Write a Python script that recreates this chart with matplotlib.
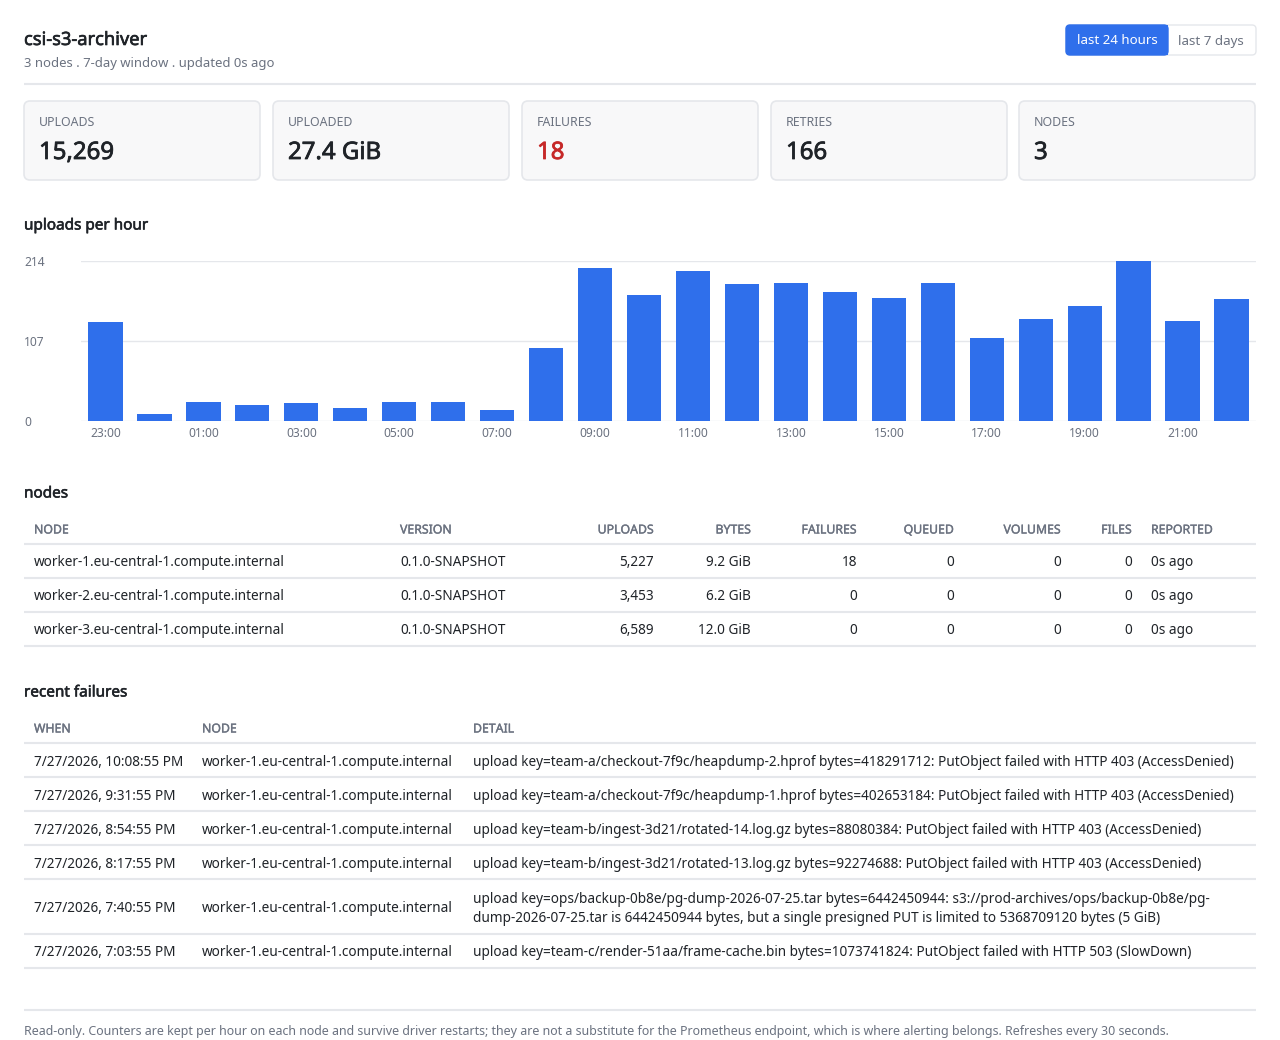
import matplotlib
matplotlib.use("Agg")
import matplotlib.pyplot as plt
import matplotlib.patheffects as pe
from matplotlib.patches import FancyBboxPatch, Rectangle

plt.rcParams['font.family'] = ['Noto Sans', 'DejaVu Sans']

# data
hours = ["23:00", "00:00", "01:00", "02:00", "03:00", "04:00", "05:00", "06:00",
         "07:00", "08:00", "09:00", "10:00", "11:00", "12:00", "13:00", "14:00",
         "15:00", "16:00", "17:00", "18:00", "19:00", "20:00", "21:00", "22:00"]
uploads_per_hour = [132, 10, 25, 22, 24, 17, 26, 26, 15, 98, 204, 168,
                    200, 183, 184, 173, 164, 184, 111, 136, 154, 214, 134, 163]
y_ticks = [0, 107, 214]

card_labels = ["UPLOADS", "UPLOADED", "FAILURES", "RETRIES", "NODES"]
card_values = ["15,269", "27.4 GiB", "18", "166", "3"]

node_cols = ["NODE", "VERSION", "UPLOADS", "BYTES", "FAILURES", "QUEUED", "VOLUMES", "FILES", "REPORTED"]
node_names = ["worker-1.eu-central-1.compute.internal",
              "worker-2.eu-central-1.compute.internal",
              "worker-3.eu-central-1.compute.internal"]
node_version = ["0.1.0-SNAPSHOT"] * 3
node_uploads = ["5,227", "3,453", "6,589"]
node_bytes = ["9.2 GiB", "6.2 GiB", "12.0 GiB"]
node_failures = ["18", "0", "0"]
node_queued = ["0", "0", "0"]
node_volumes = ["0", "0", "0"]
node_files = ["0", "0", "0"]
node_reported = ["0s ago", "0s ago", "0s ago"]

fail_cols = ["WHEN", "NODE", "DETAIL"]
fail_when = ["7/27/2026, 10:08:55 PM", "7/27/2026, 9:31:55 PM", "7/27/2026, 8:54:55 PM",
             "7/27/2026, 8:17:55 PM", "7/27/2026, 7:40:55 PM", "7/27/2026, 7:03:55 PM"]
fail_node = ["worker-1.eu-central-1.compute.internal"] * 6
fail_detail = [
    "upload key=team-a/checkout-7f9c/heapdump-2.hprof bytes=418291712: PutObject failed with HTTP 403 (AccessDenied)",
    "upload key=team-a/checkout-7f9c/heapdump-1.hprof bytes=402653184: PutObject failed with HTTP 403 (AccessDenied)",
    "upload key=team-b/ingest-3d21/rotated-14.log.gz bytes=88080384: PutObject failed with HTTP 403 (AccessDenied)",
    "upload key=team-b/ingest-3d21/rotated-13.log.gz bytes=92274688: PutObject failed with HTTP 403 (AccessDenied)",
    "upload key=ops/backup-0b8e/pg-dump-2026-07-25.tar bytes=6442450944: s3://prod-archives/ops/backup-0b8e/pg-\n"
    "dump-2026-07-25.tar is 6442450944 bytes, but a single presigned PUT is limited to 5368709120 bytes (5 GiB)",
    "upload key=team-c/render-51aa/frame-cache.bin bytes=1073741824: PutObject failed with HTTP 503 (SlowDown)",
]

footer = ("Read-only. Counters are kept per hour on each node and survive driver restarts; they are not a "
          "substitute for the Prometheus endpoint, which is where alerting belongs. Refreshes every 30 seconds.")

# colours
DARK = "#1f2328"
GRAY = "#6b7280"
LINE = "#e5e7eb"
BLUE = "#2f6feb"
RED = "#c62828"

W, H = 1280, 1040
PT = 0.72  # px -> pt at dpi 100
BODY = 13.6

fig = plt.figure(figsize=(W / 100, H / 100), dpi=100)
fig.patch.set_facecolor("white")
bg = fig.add_axes([0, 0, 1, 1])
bg.set_xlim(0, W)
bg.set_ylim(H, 0)
bg.axis("off")


def txt(x, y, s, size, color=DARK, ha="left", heavy=0.0, **kw):
    t = bg.text(x, y + 2, s, fontsize=size * PT, color=color, ha=ha, va="center", **kw)
    if heavy:
        # fake a semibold weight
        t.set_path_effects([pe.withStroke(linewidth=heavy, foreground=color)])
    return t


def hline(y, x0=24, x1=1256, color=LINE, lw=1.5):
    bg.plot([x0, x1], [y, y], color=color, lw=lw, solid_capstyle="butt")


# header
txt(24, 38, "csi-s3-archiver", 18.3, heavy=0.45)
txt(24, 61, "3 nodes . 7-day window . updated 0s ago", 13.1, color=GRAY)

bg.add_patch(FancyBboxPatch((1066, 25), 190, 30, boxstyle="round,pad=0,rounding_size=4",
                            facecolor="white", edgecolor=LINE, lw=1))
bg.add_patch(FancyBboxPatch((1066, 25), 102, 30, boxstyle="round,pad=0,rounding_size=4",
                            facecolor=BLUE, edgecolor=BLUE, lw=1))
bg.add_patch(Rectangle((1160, 25), 8, 30, facecolor=BLUE, edgecolor="none"))
txt(1117, 39, "last 24 hours", 13.3, color="white", ha="center")
txt(1211, 39, "last 7 days", 13.3, color=GRAY, ha="center")

hline(84)

# stat cards
card_x = [24, 273, 522, 771, 1019]
card_w = 236
for i, (lab, val) in enumerate(zip(card_labels, card_values)):
    x = card_x[i]
    bg.add_patch(FancyBboxPatch((x, 101), card_w, 79, boxstyle="round,pad=0,rounding_size=6",
                                facecolor="#f8f8f9", edgecolor=LINE, lw=1.2))
    txt(x + 15, 121, lab, 12.3, color=GRAY)
    txt(x + 15, 151, val, 24, color=RED if lab == "FAILURES" else DARK, heavy=0.55)

# uploads per hour chart
txt(24, 224, "uploads per hour", 15.3, heavy=0.4)
ax = fig.add_axes([81 / W, (H - 421) / H, (1256 - 81) / W, 160 / H])
ax.bar(range(len(hours)), uploads_per_hour, width=0.7, color=BLUE, zorder=3)
ax.set_xlim(-0.5, len(hours) - 0.5)
ax.set_ylim(0, max(y_ticks))
ax.set_yticks(y_ticks)
ax.set_yticklabels([str(v) for v in y_ticks], ha="left")
ax.set_xticks(range(0, len(hours), 2))
ax.set_xticklabels(hours[::2])
ax.tick_params(axis="y", length=0, pad=57 * PT, labelsize=12 * PT, labelcolor=GRAY)
ax.tick_params(axis="x", length=0, pad=6 * PT, labelsize=12 * PT, labelcolor=GRAY)
ax.grid(axis="y", color=LINE, lw=1, zorder=0)
for s in ax.spines.values():
    s.set_visible(False)
ax.set_facecolor("none")

# nodes table
txt(24, 492, "nodes", 15.3, heavy=0.4)
node_x = [34, 400, 654, 751, 857, 954, 1061, 1132, 1151]
node_ha = ["left", "left", "right", "right", "right", "right", "right", "right", "left"]
for c, x, ha in zip(node_cols, node_x, node_ha):
    txt(x, 528, c, 12.3, color=GRAY, ha=ha, heavy=0.25)
hline(544)
node_rows = list(zip(node_names, node_version, node_uploads, node_bytes, node_failures,
                     node_queued, node_volumes, node_files, node_reported))
row_y = [561, 595, 629]
for y, row in zip(row_y, node_rows):
    for s, x, ha in zip(row, node_x, node_ha):
        txt(x, y, s, BODY, ha=ha)
    hline(y + 17)

# recent failures table
txt(24, 691, "recent failures", 15.3, heavy=0.4)
fail_x = [34, 202, 473]
for c, x in zip(fail_cols, fail_x):
    txt(x, 727, c, 12.3, color=GRAY, heavy=0.25)
hline(743)
fail_y = [760, 794, 828, 862, 907, 951]
fail_bottom = [777, 811, 845, 879, 934, 968]
for y, yb, w, n, d in zip(fail_y, fail_bottom, fail_when, fail_node, fail_detail):
    txt(34, y, w, BODY)
    txt(202, y, n, BODY)
    txt(473, y, d, BODY, linespacing=1.45)
    hline(yb)

# footer
hline(1010)
txt(24, 1030, footer, 12.47, color=GRAY)

fig.savefig("out.png", dpi=100, facecolor="white")
